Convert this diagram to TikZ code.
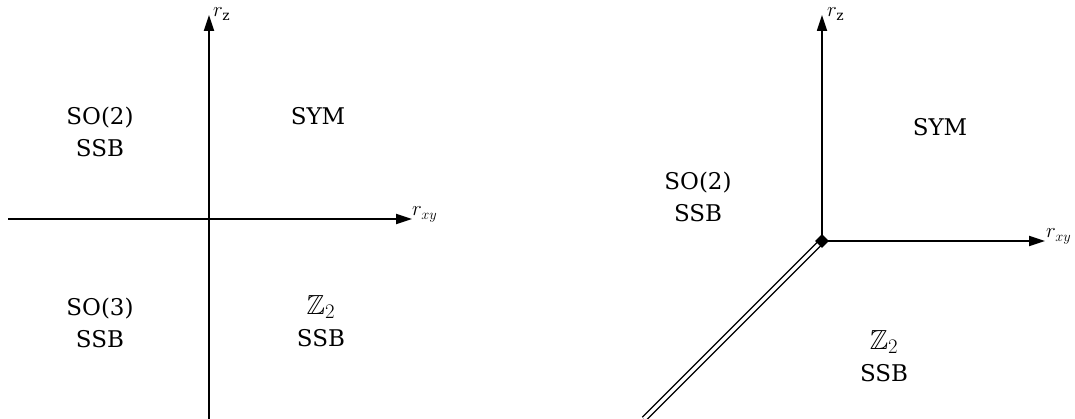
\documentclass[tikz,border=0pt]{standalone}
\usepackage{amssymb}
\usepackage{graphicx}
\usepackage{fontspec}
\setmainfont{DejaVu Serif}
\usetikzlibrary{arrows.meta,shapes.geometric}
\newcommand{\ztwo}{\scalebox{1.2}{$\mathbb{Z}_2$}}
\tikzset{
  axis/.style={line width=1.8pt,-{Triangle[length=16pt,width=10pt]}},
  phase/.style={align=center,inner sep=0pt,font=\fontsize{23}{32}\selectfont},
  axlabel/.style={anchor=base west,inner sep=0pt,font=\fontsize{20}{24}\selectfont},
  boundary/.style={line width=1.5pt,double=white,double distance=3.2pt},
}
\begin{document}
\begin{tikzpicture}[x=1pt,y=-1pt]
\useasboundingbox (0,0) rectangle (1075,419);
% left panel
\coordinate (Lw) at (8,219);
\coordinate (Le) at (412,219);
\coordinate (Ls) at (209,419);
\coordinate (Ln) at (209,15);
\draw[axis] (Lw) -- (Le);
\draw[axis] (Ls) -- (Ln);
\node[axlabel] (Lrz) at (213,17) {$r_{\mathrm{z}}$};
\node[axlabel] (Lrxy) at (412,216) {$r_{xy}$};
\node[phase] (Lso2) at (100,132) {SO(2)\\SSB};
\node[phase] (Lsym) at (318,116) {SYM};
\node[phase] (Lso3) at (100,323) {SO(3)\\SSB};
\node[phase] (Lz2) at (321,321) {\ztwo\\SSB};
% right panel
\coordinate (O) at (822,241);
\coordinate (Rn) at (822,15);
\coordinate (Re) at (1045,241);
\coordinate (Rsw) at (644,419);
\draw[boundary] (O) -- (Rsw);
\draw[axis] (O) -- (Rn);
\draw[axis] (O) -- (Re);
\node[diamond,fill=black,inner sep=0pt,minimum size=14pt] (Od) at (O) {};
\node[axlabel] (Rrz) at (827,17) {$r_{\mathrm{z}}$};
\node[axlabel] (Rrxy) at (1046,238) {$r_{xy}$};
\node[phase] (Rso2) at (698,197) {SO(2)\\SSB};
\node[phase] (Rsym) at (940,127) {SYM};
\node[phase] (Rz2) at (884,356) {\ztwo\\SSB};
\end{tikzpicture}
\end{document}
